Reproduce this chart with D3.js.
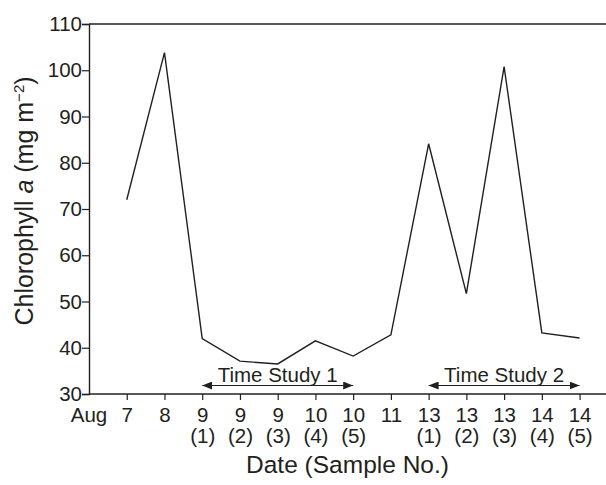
<!DOCTYPE html>
<html>
<head>
<meta charset="utf-8">
<script src="https://cdn.jsdelivr.net/npm/d3@7"></script>
<style>
  body { margin: 0; background: #fff; }
  svg { display: block; font-family: "Liberation Sans", Arial, Helvetica, sans-serif; }
</style>
</head>
<body>
<div id="chart"></div>
<script>
// date + sample number for each measurement
const dates = ["7", "8", "9", "9", "9", "10", "10", "11", "13", "13", "13", "14", "14"];
const samples = ["", "", "(1)", "(2)", "(3)", "(4)", "(5)", "", "(1)", "(2)", "(3)", "(4)", "(5)"];
const chlorophyll = [72, 103.8, 42, 37.1, 36.5, 41.5, 38.2, 42.8, 84.1, 51.7, 100.8, 43.2, 42.1];
const yTicks = [30, 40, 50, 60, 70, 80, 90, 100, 110];
// time studies, by sample index
const studies = [
  { label: "Time Study 1", from: 2, to: 6 },
  { label: "Time Study 2", from: 8, to: 12 }
];

const width = 606, height = 485;
const margin = { top: 24, right: 0, bottom: 91, left: 89 };
const ink = "#231f20";
const tickFont = "20.5px";

const svg = d3.select("#chart").append("svg")
  .attr("width", width)
  .attr("height", height);

const x = d3.scaleLinear()
  .domain([-1, 12.7])
  .range([margin.left, width - margin.right]);

const y = d3.scaleLinear()
  .domain([30, 110])
  .range([height - margin.bottom, margin.top]);

const x0 = margin.left, y0 = height - margin.bottom;

// frame: top line
svg.append("line")
  .attr("x1", x0).attr("x2", width)
  .attr("y1", y(110)).attr("y2", y(110))
  .attr("stroke", ink).attr("stroke-width", 1.4);

// y axis
const yAxis = svg.append("g")
  .attr("transform", `translate(${x0},0)`)
  .call(d3.axisLeft(y).tickValues(yTicks).tickSize(7).tickPadding(0));
yAxis.select(".domain").attr("stroke", ink).attr("stroke-width", 1.4);
yAxis.selectAll(".tick line").attr("stroke", ink).attr("stroke-width", 1.2);
yAxis.selectAll("text")
  .attr("fill", ink)
  .style("font-size", tickFont)
  .attr("font-family", null);

// x axis
const xAxis = svg.append("g")
  .attr("transform", `translate(0,${y0})`)
  .call(d3.axisBottom(x).tickValues(d3.range(dates.length)).tickSize(6).tickFormat(""));
xAxis.select(".domain").attr("stroke", ink).attr("stroke-width", 1.4)
  .attr("d", `M${x0},0H${width}`);
xAxis.selectAll(".tick line").attr("stroke", ink).attr("stroke-width", 1.2);

const tickText = xAxis.selectAll(".tick").append("text")
  .attr("fill", ink)
  .attr("text-anchor", "middle")
  .style("font-size", tickFont);
tickText.append("tspan")
  .attr("x", 0).attr("y", 28)
  .text(i => dates[i]);
tickText.append("tspan")
  .attr("x", 0).attr("y", 49)
  .text(i => samples[i]);

xAxis.append("text")
  .attr("x", x(-1)).attr("y", 28)
  .attr("fill", ink)
  .attr("text-anchor", "middle")
  .style("font-size", tickFont)
  .text("Aug");

// data line
svg.append("path")
  .datum(chlorophyll)
  .attr("fill", "none")
  .attr("stroke", ink)
  .attr("stroke-width", 1.4)
  .attr("stroke-linejoin", "miter")
  .attr("d", d3.line().x((d, i) => x(i)).y(d => y(d)));

// time study arrows
svg.append("defs").append("marker")
  .attr("id", "head")
  .attr("viewBox", "0 0 10 8")
  .attr("refX", 10).attr("refY", 4)
  .attr("markerWidth", 10).attr("markerHeight", 8)
  .attr("markerUnits", "userSpaceOnUse")
  .attr("orient", "auto-start-reverse")
  .append("path")
  .attr("d", "M0,0L10,4L0,8Z")
  .attr("fill", ink);

const arrowY = y0 - 8.5;
studies.forEach(s => {
  svg.append("line")
    .attr("x1", x(s.from)).attr("x2", x(s.to))
    .attr("y1", arrowY).attr("y2", arrowY)
    .attr("stroke", ink).attr("stroke-width", 1.2)
    .attr("marker-start", "url(#head)")
    .attr("marker-end", "url(#head)");
  svg.append("text")
    .attr("x", (x(s.from) + x(s.to)) / 2)
    .attr("y", arrowY - 3.5)
    .attr("text-anchor", "middle")
    .attr("fill", ink)
    .style("font-size", tickFont)
    .text(s.label);
});

// axis titles
svg.append("text")
  .attr("x", (x0 + width) / 2)
  .attr("y", 473)
  .attr("text-anchor", "middle")
  .attr("fill", ink)
  .style("font-size", "24.5px")
  .text("Date (Sample No.)");

const yTitle = svg.append("text")
  .attr("transform", `translate(33,201) rotate(-90)`)
  .attr("text-anchor", "middle")
  .attr("fill", ink)
  .style("font-size", "25px");
yTitle.append("tspan").text("Chlorophyll ");
yTitle.append("tspan").attr("font-style", "italic").text("a");
yTitle.append("tspan").text(" (mg m");
yTitle.append("tspan").attr("dy", -9).style("font-size", "15px").text("\u22122");
yTitle.append("tspan").attr("dy", 9).text(")");
</script>
</body>
</html>
